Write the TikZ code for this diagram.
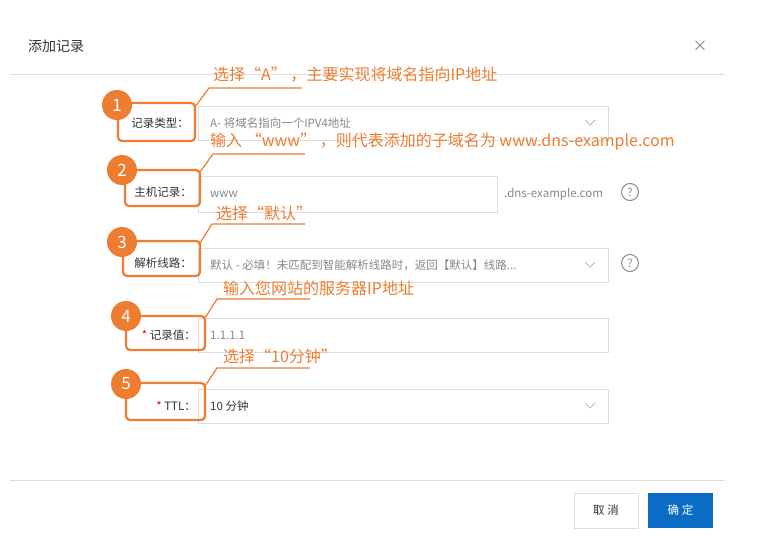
\documentclass[tikz,border=0pt]{standalone}
\usepackage{fontspec}
\setmainfont{Noto Sans CJK SC}
\definecolor{org}{HTML}{ED7D31}
\definecolor{bd}{HTML}{DDDDDD}
\definecolor{tx}{HTML}{333333}
\definecolor{ph}{HTML}{888888}
\definecolor{blu}{HTML}{0A6CC4}
\begin{document}
\begin{tikzpicture}[x=1pt,y=-1pt,
  inp/.style={draw=bd,line width=0.8pt},
  lab/.style={anchor=east,text=tx,font=\fontsize{11.5}{13}\selectfont,inner sep=0},
  val/.style={anchor=west,text=ph,font=\fontsize{11.5}{13}\selectfont,inner sep=0},
  obox/.style={draw=org,line width=2.2pt,rounded corners=4pt},
  num/.style={circle,fill=org,minimum size=30pt,inner sep=0,text=white,font=\fontsize{17}{19}\selectfont},
  call/.style={draw=org,line width=1.2pt},
  ctext/.style={anchor=west,text=org,font=\fontsize{16}{18}\selectfont,inner sep=0},
  chev/.style={draw=ph!70,line width=0.7pt},
  q/.style={circle,draw=ph,line width=1pt,minimum size=17pt,inner sep=0,text=ph,font=\fontsize{11}{12}\selectfont}]
\useasboundingbox[fill=white] (0,0) rectangle (770,549);
\node[anchor=west,text=tx,font=\fontsize{14}{16}\selectfont,inner sep=0] (title) at (28,46) {添加记录};
\node[text=ph,font=\fontsize{15}{16}\selectfont,inner sep=0] (close) at (700,46) {×};
\draw[draw=bd] (10,74) -- (725,74);
\draw[draw=bd] (10,480) -- (725,480);
% inputs
\draw[inp] (198,106) rectangle (608,140);
\draw[inp] (198,176) rectangle (497,212);
\draw[inp] (198,248) rectangle (608,282);
\draw[inp] (198,318) rectangle (608,352);
\draw[inp] (198,389) rectangle (608,423);
\foreach \y in {123,265,406}{\draw[chev] (585,\y-3) -- (590,\y+2) -- (595,\y-3);}
\node[val] (v1) at (210,123) {A- 将域名指向一个IPV4地址};
\node[val] (v2) at (210,194) {www};
\node[val,text=ph] (sfx) at (504,194) {.dns-example.com};
\node[q] (q1) at (630,192) {?};
\node[val] (v3) at (210,265) {默认 - 必填！未匹配到智能解析线路时，返回【默认】线路...};
\node[q] (q2) at (630,263) {?};
\node[val] (v4) at (210,335) {1.1.1.1};
\node[val,text=tx] (v5) at (210,406) {10 分钟};
% labels
\node[lab] (l1) at (189,123) {记录类型：};
\node[lab] (l2) at (192,192) {主机记录：};
\node[lab] (l3) at (192,263) {解析线路：};
\node[lab] (l4) at (196,335) {\textcolor{red}{*} 记录值：};
\node[lab] (l5) at (196,406) {\textcolor{red}{*} TTL：};
% orange boxes
\draw[obox] (118,103) rectangle (195,141);
\draw[obox] (125,170) rectangle (200,206);
\draw[obox] (123,241) rectangle (200,276);
\draw[obox] (126,316) rectangle (205,350);
\draw[obox] (126,383) rectangle (205,420);
% callouts
\coordinate (a1) at (195,107); \coordinate (b1) at (209,88); \coordinate (c1) at (302,88);
\coordinate (a2) at (200,172); \coordinate (b2) at (213,154); \coordinate (c2) at (305,154);
\coordinate (a3) at (200,243); \coordinate (b3) at (212,224); \coordinate (c3) at (305,224);
\coordinate (a4) at (205,318); \coordinate (b4) at (217,299); \coordinate (c4) at (310,299);
\coordinate (a5) at (205,386); \coordinate (b5) at (217,368); \coordinate (c5) at (310,368);
\foreach \i in {1,...,5}{\draw[call] (a\i) -- (b\i) -- (c\i);}
\node[ctext] (t1) at (213,75) {选择“A” ，主要实现将域名指向IP地址};
\node[ctext] (t2) at (210,142) {输入 “www” ，则代表添加的子域名为 www.dns-example.com};
\node[ctext] (t3) at (216,213) {选择“默认”};
\node[ctext] (t4) at (223,288) {输入您网站的服务器IP地址};
\node[ctext] (t5) at (223,356) {选择“10分钟”};
\node[num] (n1) at (117,105) {1};
\node[num] (n2) at (122,170) {2};
\node[num] (n3) at (122,242) {3};
\node[num] (n4) at (126,316) {4};
\node[num] (n5) at (126,384) {5};
% buttons
\draw[draw=bd,fill=white] (574,493) rectangle (638,528);
\node[text=tx,font=\fontsize{11.5}{13}\selectfont] (cancel) at (606,510.5) {取 消};
\fill[blu] (648,493) rectangle (713,528);
\node[text=white,font=\fontsize{11.5}{13}\selectfont] (ok) at (680.5,510.5) {确 定};
\end{tikzpicture}
\end{document}
